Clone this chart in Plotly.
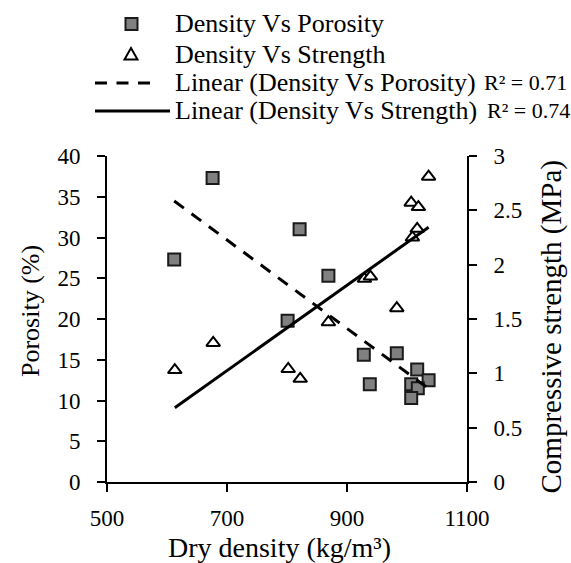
import numpy as np
import plotly.graph_objects as go

# Data
por_density = [612, 676, 821, 869, 801, 928, 983, 938, 1017, 1036, 1007, 1018, 1007]
porosity = [27.3, 37.3, 31.0, 25.3, 19.8, 15.6, 15.8, 12.0, 13.8, 12.5, 12.0, 11.5, 10.3]

str_density = [613, 677, 802, 822, 869, 983, 929, 939, 1009, 1017, 1007, 1019, 1036]
strength = [1.03, 1.28, 1.04, 0.95, 1.47, 1.60, 1.87, 1.89, 2.25, 2.33, 2.57, 2.53, 2.81]

x_ticks = [500, 700, 900, 1100]
legend_labels = ["Density Vs Porosity", "Density Vs Strength",
                 "Linear (Density Vs Porosity)", "Linear (Density Vs Strength)"]
r2_labels = ["R² = 0.71", "R² = 0.74"]

FONT = "Liberation Serif"
W, H = 571, 563
ML, MR, MT, MB = 107, 104, 156, 81
PW, PH = W - ML - MR, H - MT - MB

def px(xp):
    return (xp - ML) / PW

def py(yp):
    return (H - MB - yp) / PH

# Linear trendlines (least squares, like the spreadsheet trendline)
def trend(x, y):
    k, b = np.polyfit(x, y, 1)
    xs = np.array([min(x), max(x)])
    return xs, k * xs + b

tx_p, ty_p = trend(por_density, porosity)
tx_s, ty_s = trend(str_density, strength)

SQ_STYLE = dict(symbol="square", size=12, color="#808080", line=dict(color="#1a1a1a", width=2))
TRI_STYLE = dict(symbol="triangle-up", size=12, color="white", line=dict(color="black", width=2))
DASH = "12px,9.5px"

fig = go.Figure()
fig.add_trace(go.Scatter(x=por_density, y=porosity, mode="markers",
                         name=legend_labels[0], marker=SQ_STYLE))
fig.add_trace(go.Scatter(x=str_density, y=strength, mode="markers", yaxis="y2",
                         name=legend_labels[1], marker=TRI_STYLE))
fig.add_trace(go.Scatter(x=tx_p, y=ty_p, mode="lines", name=legend_labels[2],
                         line=dict(color="black", width=3, dash=DASH)))
fig.add_trace(go.Scatter(x=tx_s, y=ty_s, mode="lines", yaxis="y2", name=legend_labels[3],
                         line=dict(color="black", width=3)))

axis_common = dict(
    showline=True, linecolor="black", linewidth=2, ticks="outside", ticklen=8,
    tickwidth=2, tickcolor="black", showgrid=False, zeroline=False,
    tickfont=dict(family=FONT, size=23, color="black"),
)

# ---- manual legend (glyphs + text) ----
rows_y = [24, 54, 83, 111]
shapes = []
# square glyph
cx, cy, hs = 131.5, rows_y[0], 6
shapes.append(dict(type="rect", xref="paper", yref="paper",
                   x0=px(cx - hs), x1=px(cx + hs), y0=py(cy + hs), y1=py(cy - hs),
                   fillcolor="#808080", line=dict(color="#1a1a1a", width=2)))
# triangle glyph
cx, cy = 131, rows_y[1]
tri = [(cx - 6.5, cy + 5.5), (cx + 6.5, cy + 5.5), (cx, cy - 6)]
path = "M{:.5f},{:.5f} L{:.5f},{:.5f} L{:.5f},{:.5f} Z".format(
    px(tri[0][0]), py(tri[0][1]), px(tri[1][0]), py(tri[1][1]), px(tri[2][0]), py(tri[2][1]))
shapes.append(dict(type="path", xref="paper", yref="paper", path=path,
                   fillcolor="white", line=dict(color="black", width=2)))
# dashed line glyph
shapes.append(dict(type="line", xref="paper", yref="paper",
                   x0=px(95), x1=px(155), y0=py(rows_y[2]), y1=py(rows_y[2]),
                   line=dict(color="black", width=3, dash=DASH)))
# solid line glyph
shapes.append(dict(type="line", xref="paper", yref="paper",
                   x0=px(95), x1=px(170), y0=py(rows_y[3]), y1=py(rows_y[3]),
                   line=dict(color="black", width=3)))

annotations = []
for lab, ry in zip(legend_labels, rows_y):
    annotations.append(dict(text=lab, xref="paper", yref="paper", x=px(173), y=py(ry),
                            xanchor="left", yanchor="middle", showarrow=False,
                            font=dict(family=FONT, size=26, color="black")))
for lab, ry, xs in zip(r2_labels, rows_y[2:], [482, 485]):
    annotations.append(dict(text=lab, xref="paper", yref="paper", x=px(xs), y=py(ry),
                            xanchor="left", yanchor="middle", showarrow=False,
                            font=dict(family=FONT, size=22, color="black")))

# ---- axis titles ----
annotations.append(dict(text="Dry density (kg/m³)", xref="paper", yref="paper",
                        x=px(279.5), y=py(547), xanchor="center", yanchor="middle",
                        showarrow=False, font=dict(family=FONT, size=28, color="black")))
annotations.append(dict(text="Porosity (%)", xref="paper", yref="paper",
                        x=px(30), y=py(311), xanchor="center", yanchor="middle", textangle=-90,
                        showarrow=False, font=dict(family=FONT, size=26, color="black")))
annotations.append(dict(text="Compressive strength (MPa)", xref="paper", yref="paper",
                        x=px(551), y=py(327.5), xanchor="center", yanchor="middle", textangle=-90,
                        showarrow=False, font=dict(family=FONT, size=29, color="black")))

fig.update_layout(
    width=W, height=H,
    margin=dict(l=ML, r=MR, t=MT, b=MB),
    paper_bgcolor="white", plot_bgcolor="white",
    font=dict(family=FONT, color="black"),
    xaxis=dict(range=[500, 1100], tickvals=x_ticks, ticklabelstandoff=6, **axis_common),
    yaxis=dict(range=[0, 40], dtick=5, ticklabelstandoff=12, **axis_common),
    yaxis2=dict(range=[0, 3], dtick=0.5, overlaying="y", side="right",
                ticklabelstandoff=12, **axis_common),
    showlegend=False,
    shapes=shapes,
    annotations=annotations,
)

fig.write_html("out.html")
